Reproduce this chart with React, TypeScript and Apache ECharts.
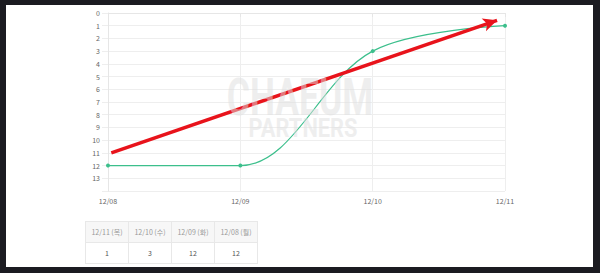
import React, { useEffect, useRef } from "react";
import * as echarts from "echarts";

const categories = ["12/08", "12/09", "12/10", "12/11"];
const weekdays = ["월", "화", "수", "목"];
const ranks = [12, 12, 3, 1];
const yTicks = [0, 14];
// trend arrow: [x position on category scale, rank]
const arrowStart = [0.025, 11.0];
const arrowEnd = [2.94, 0.58];

const FONT = "'Noto Sans CJK KR', 'Noto Sans', sans-serif";

export default function App() {
  const ref = useRef<HTMLDivElement>(null);

  useEffect(() => {
    if (!ref.current) return;
    const chart = echarts.init(ref.current, undefined, { renderer: "svg" });
    chart.setOption({
      animation: false,
      grid: { left: 108, right: 95, top: 13, bottom: 82 },
      xAxis: [
        {
          type: "category",
          data: categories,
          boundaryGap: false,
          axisLine: { show: true, lineStyle: { color: "#e6e6e6" } },
          axisTick: { show: true, length: 4, lineStyle: { color: "#e6e6e6" } },
          axisLabel: { color: "#666", fontSize: 7, margin: 6, fontFamily: FONT },
          splitLine: { show: true, lineStyle: { color: "#eeeeee" } },
        },
        {
          type: "value",
          min: 0,
          max: categories.length - 1,
          show: false,
        },
      ],
      yAxis: {
        type: "value",
        inverse: true,
        min: yTicks[0],
        max: yTicks[1],
        interval: 1,
        axisLine: { show: true, lineStyle: { color: "#e6e6e6" } },
        axisTick: { show: true, length: 6, lineStyle: { color: "#eeeeee" } },
        axisLabel: {
          color: "#666",
          fontSize: 7,
          margin: 8,
          fontFamily: FONT,
          formatter: (v: number) => (v === yTicks[1] ? "" : String(v)),
        },
        splitLine: { show: true, lineStyle: { color: "#eeeeee" } },
      },
      series: [
        {
          type: "line",
          data: ranks,
          smooth: 0.35,
          symbol: "circle",
          symbolSize: 4,
          showSymbol: true,
          itemStyle: { color: "#3cbf8c" },
          lineStyle: { color: "#3cbf8c", width: 1.2 },
          z: 3,
        },
        {
          type: "line",
          xAxisIndex: 1,
          data: [arrowStart, arrowEnd],
          symbol: "none",
          lineStyle: { opacity: 0 },
          silent: true,
          z: 4,
          markLine: {
            silent: true,
            symbol: ["none", "arrow"],
            symbolSize: [10, 14],
            label: { show: false },
            lineStyle: { color: "#e8131b", width: 3.5, type: "solid" },
            data: [[{ coord: arrowStart }, { coord: arrowEnd }]],
          },
        },
      ],
      graphic: [
        {
          type: "text",
          x: 300,
          y: 97,
          scaleX: 0.68,
          z: 100,
          silent: true,
          style: {
            text: "CHAEUM",
            fontSize: 52,
            fontWeight: "bold",
            fontFamily: "Roboto, sans-serif",
            fill: "rgba(222,222,222,0.5)",
            align: "center",
            verticalAlign: "middle",
          },
        },
        {
          type: "text",
          x: 303,
          y: 128,
          scaleX: 0.84,
          z: 100,
          silent: true,
          style: {
            text: "PARTNERS",
            fontSize: 26,
            fontWeight: "bold",
            fontFamily: "Roboto, sans-serif",
            fill: "rgba(222,222,222,0.5)",
            align: "center",
            verticalAlign: "middle",
          },
        },
      ],
    });
    return () => chart.dispose();
  }, []);

  const order = categories.map((_, i) => i).reverse();
  const cellBase: React.CSSProperties = {
    width: 42,
    height: 20,
    border: "1px solid #e8e8e8",
    textAlign: "center",
    padding: 0,
    fontSize: 7,
    fontFamily: FONT,
  };

  return (
    <div
      style={{
        position: "fixed",
        left: 0,
        top: 0,
        width: 600,
        height: 273,
        background: "#1b1b21",
        overflow: "hidden",
      }}
    >
      <div
        style={{
          position: "absolute",
          left: 6,
          top: 5,
          width: 587,
          height: 262,
          background: "#ffffff",
        }}
      />
      <div ref={ref} style={{ position: "absolute", left: 0, top: 0, width: 600, height: 273 }} />
      <table
        style={{
          position: "absolute",
          left: 85,
          top: 221,
          borderCollapse: "collapse",
          tableLayout: "fixed",
          width: 172,
        }}
      >
        <tbody>
          <tr>
            {order.map((i) => (
              <td key={"h" + i} style={{ ...cellBase, background: "#f7f7f7", color: "#999" }}>
                {`${categories[i]} (${weekdays[i]})`}
              </td>
            ))}
          </tr>
          <tr>
            {order.map((i) => (
              <td key={"v" + i} style={{ ...cellBase, background: "#fff", color: "#555" }}>
                {ranks[i]}
              </td>
            ))}
          </tr>
        </tbody>
      </table>
    </div>
  );
}
